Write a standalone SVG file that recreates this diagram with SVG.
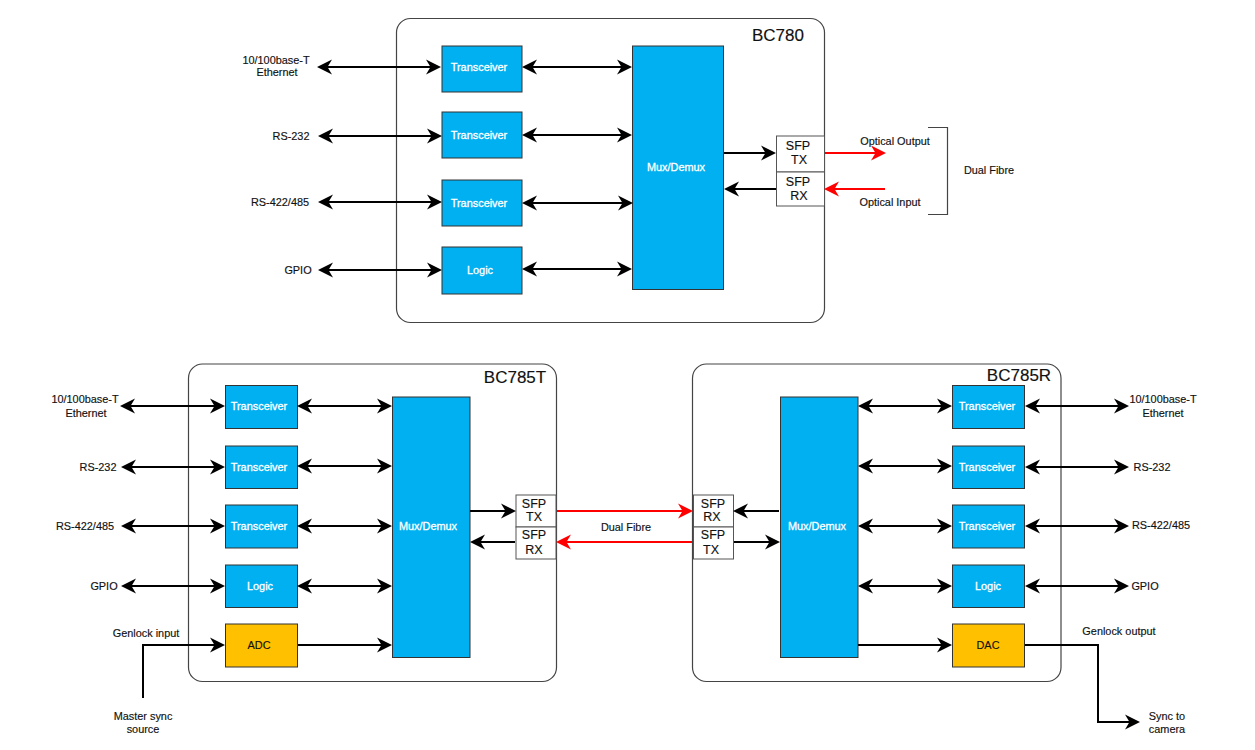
<svg xmlns="http://www.w3.org/2000/svg" width="1255" height="750" viewBox="0 0 1255 750">
<style>
text{font-family:"Liberation Sans",Arial,sans-serif;font-size:10.9px;fill:#111;stroke:#111;stroke-width:.15;text-anchor:middle}
.frame{fill:#fff;stroke:#444;stroke-width:1.2}
.blue{fill:#00b0f0;stroke:#333;stroke-width:1}
.amber{fill:#ffc000;stroke:#333;stroke-width:1}
.sfp{fill:#fff;stroke:#555;stroke-width:1}
text.w{fill:#fff;stroke:#fff;stroke-width:.3}
text.sfpt{font-size:12.5px}
text.title{font-size:17px}
.kk{stroke-width:2;stroke:#000;fill:none;marker-end:url(#ah);marker-start:url(#ah)}
.ke{stroke-width:2;stroke:#000;fill:none;marker-end:url(#ah)}
.re{stroke-width:2;stroke:#f00;fill:none;marker-end:url(#rh)}
.bracket{fill:none;stroke:#444;stroke-width:1.2}
</style>
<defs>
<marker id="ah" markerUnits="userSpaceOnUse" markerWidth="18" markerHeight="18" refX="10" refY="9" orient="auto-start-reverse" viewBox="0 0 18 18"><path d="M0,1.500L15,9L0,16.500L4.500,9Z" fill="#000"/></marker>
<marker id="rh" markerUnits="userSpaceOnUse" markerWidth="18" markerHeight="18" refX="10" refY="9" orient="auto-start-reverse" viewBox="0 0 18 18"><path d="M0,1.500L15,9L0,16.500L4.500,9Z" fill="#f00"/></marker>
</defs>

<g id="frames">
<rect id="BC780" class="frame" x="396.500" y="18.500" width="428" height="304" rx="14"/>
<rect id="BC785T" class="frame" x="188.500" y="364" width="368" height="317.500" rx="14"/>
<rect id="BC785R" class="frame" x="692.500" y="364" width="368.500" height="317.500" rx="14"/>
</g>
<text class="title" x="778" y="41">BC780</text>
<text class="title" x="515" y="383">BC785T</text>
<text class="title" x="1019" y="381">BC785R</text>

<g id="top-nodes">
<g id="t1"><rect class="blue" x="442" y="46" width="80" height="46"/><text class="w" x="479" y="71">Transceiver</text></g>
<g id="t2"><rect class="blue" x="442" y="112" width="80" height="46"/><text class="w" x="479" y="139">Transceiver</text></g>
<g id="t3"><rect class="blue" x="442" y="180" width="80" height="46"/><text class="w" x="479" y="207">Transceiver</text></g>
<g id="t4"><rect class="blue" x="442" y="247" width="80" height="47"/><text class="w" x="480" y="274">Logic</text></g>
<g id="tmux"><rect class="blue" x="632.500" y="46" width="91" height="243.500"/><text class="w" x="676" y="171">Mux/Demux</text></g>
<g id="tsfptx"><rect class="sfp" x="776.500" y="136" width="48" height="36"/><text class="sfpt" x="798" y="150">SFP</text><text class="sfpt" x="799" y="164">TX</text></g>
<g id="tsfprx"><rect class="sfp" x="776.500" y="172" width="48" height="34"/><text class="sfpt" x="798" y="186">SFP</text><text class="sfpt" x="799" y="200">RX</text></g>
</g>

<g id="left-nodes">
<g id="l1"><rect class="blue" x="225.500" y="385.500" width="72" height="43"/><text class="w" x="259" y="410">Transceiver</text></g>
<g id="l2"><rect class="blue" x="225.500" y="446" width="72" height="42.500"/><text class="w" x="259" y="471">Transceiver</text></g>
<g id="l3"><rect class="blue" x="225.500" y="505" width="72" height="43"/><text class="w" x="259" y="530">Transceiver</text></g>
<g id="l4"><rect class="blue" x="225.500" y="565" width="72" height="42.500"/><text class="w" x="260" y="590">Logic</text></g>
<g id="adc"><rect class="amber" x="225.500" y="624" width="72" height="43"/><text x="259" y="649">ADC</text></g>
<g id="lmux"><rect class="blue" x="392.500" y="397" width="77.500" height="260.500"/><text class="w" x="428" y="530">Mux/Demux</text></g>
<g id="lsfptx"><rect class="sfp" x="516" y="495" width="40" height="32"/><text class="sfpt" x="534" y="508">SFP</text><text class="sfpt" x="534" y="521">TX</text></g>
<g id="lsfprx"><rect class="sfp" x="516" y="527" width="40" height="32"/><text class="sfpt" x="534" y="539">SFP</text><text class="sfpt" x="534" y="554">RX</text></g>
</g>

<g id="right-nodes">
<g id="r1"><rect class="blue" x="952.500" y="385.500" width="72" height="43"/><text class="w" x="987" y="410">Transceiver</text></g>
<g id="r2"><rect class="blue" x="952.500" y="446" width="72" height="42.500"/><text class="w" x="987" y="471">Transceiver</text></g>
<g id="r3"><rect class="blue" x="952.500" y="505" width="72" height="43"/><text class="w" x="987" y="530">Transceiver</text></g>
<g id="r4"><rect class="blue" x="952.500" y="565" width="72" height="42.500"/><text class="w" x="988" y="590">Logic</text></g>
<g id="dac"><rect class="amber" x="952.500" y="624" width="72" height="43"/><text x="988" y="649">DAC</text></g>
<g id="rmux"><rect class="blue" x="780.500" y="397" width="77.500" height="260.500"/><text class="w" x="817" y="530">Mux/Demux</text></g>
<g id="rsfprx"><rect class="sfp" x="693.500" y="495" width="40" height="32"/><text class="sfpt" x="713" y="508">SFP</text><text class="sfpt" x="712" y="521">RX</text></g>
<g id="rsfptx"><rect class="sfp" x="693.500" y="527" width="40" height="32"/><text class="sfpt" x="713" y="539">SFP</text><text class="sfpt" x="711" y="554">TX</text></g>
</g>

<g id="connectors">
<path class="kk" d="M322,67H436"/>
<path class="kk" d="M323,136H437"/>
<path class="kk" d="M323,202H437"/>
<path class="kk" d="M323,270H437"/>
<path class="kk" d="M527,67H627"/>
<path class="kk" d="M527,135H627"/>
<path class="kk" d="M527,203H628"/>
<path class="kk" d="M527,269H627"/>
<path class="ke" d="M724,153H771"/>
<path class="ke" d="M776,189H729"/>
<path class="re" d="M825,153H881"/>
<path class="re" d="M885,189H829"/>

<path class="kk" d="M125,406H220"/>
<path class="kk" d="M126,467H220"/>
<path class="kk" d="M126,526H220"/>
<path class="kk" d="M126,586H220"/>
<path class="kk" d="M302,406H387"/>
<path class="kk" d="M302,466H387"/>
<path class="kk" d="M302,526H387"/>
<path class="kk" d="M302,586H387"/>
<path class="ke" d="M298,645H387"/>
<path class="ke" d="M143,698V645H220"/>
<path class="ke" d="M470,511H511"/>
<path class="ke" d="M515,542H475"/>
<path class="re" d="M557,511H688"/>
<path class="re" d="M692,542H561"/>

<path class="ke" d="M779,511H738"/>
<path class="ke" d="M734,542H775"/>
<path class="kk" d="M863,406H947"/>
<path class="kk" d="M863,466H947"/>
<path class="kk" d="M863,526H947"/>
<path class="kk" d="M863,586H947"/>
<path class="ke" d="M858,645H947"/>
<path class="kk" d="M1030,406H1124"/>
<path class="kk" d="M1030,467H1124"/>
<path class="kk" d="M1030,526H1124"/>
<path class="kk" d="M1030,586H1124"/>
<path class="ke" d="M1025,645H1098V722H1135"/>
</g>

<path class="bracket" d="M928,127.500H947.500V214.500H928"/>

<g id="labels">
<text x="276" y="64">10/100base-T</text>
<text x="277" y="76">Ethernet</text>
<text x="291" y="140">RS-232</text>
<text x="280" y="206">RS-422/485</text>
<text x="298" y="274">GPIO</text>
<text x="895" y="145">Optical Output</text>
<text x="890" y="206">Optical Input</text>
<text x="989" y="174">Dual Fibre</text>
<text x="85" y="403">10/100base-T</text>
<text x="86" y="417">Ethernet</text>
<text x="98" y="471">RS-232</text>
<text x="85" y="530">RS-422/485</text>
<text x="104" y="590">GPIO</text>
<text x="146" y="637">Genlock input</text>
<text x="143" y="720">Master sync</text>
<text x="143" y="733">source</text>
<text x="626" y="531">Dual Fibre</text>
<text x="1163" y="403">10/100base-T</text>
<text x="1163" y="417">Ethernet</text>
<text x="1152" y="471">RS-232</text>
<text x="1161" y="529">RS-422/485</text>
<text x="1145" y="590">GPIO</text>
<text x="1119" y="635">Genlock output</text>
<text x="1167" y="720">Sync to</text>
<text x="1167" y="733">camera</text>
</g>
</svg>
